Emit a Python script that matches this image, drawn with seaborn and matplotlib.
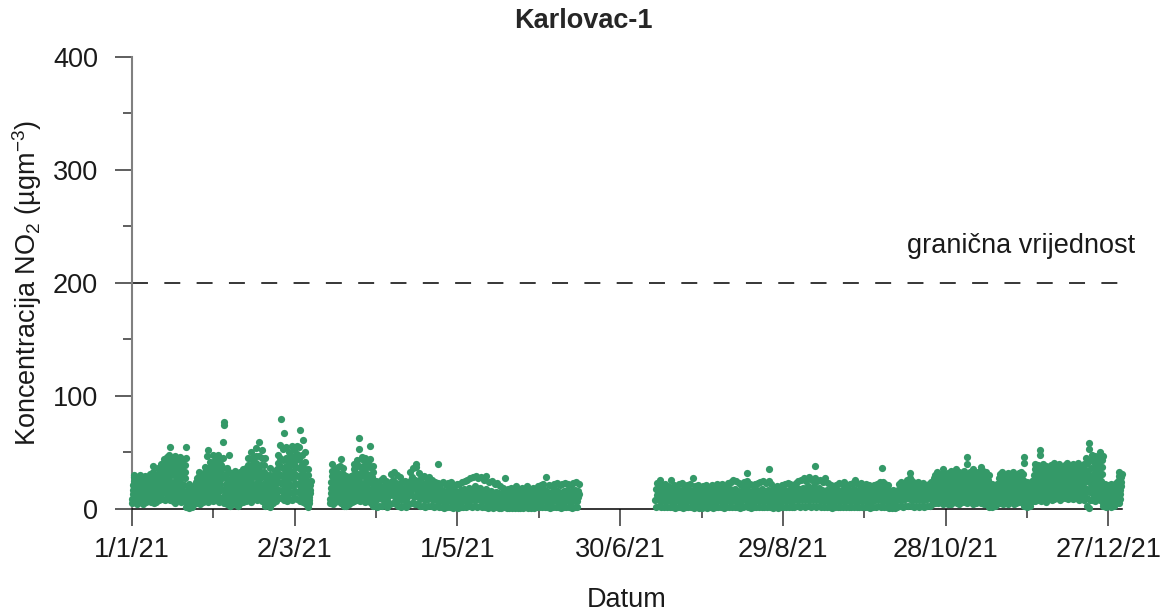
import pandas as pd
import matplotlib
matplotlib.use("Agg")
import matplotlib.pyplot as plt
import seaborn as sns

# ====================================
# DATA (NO2 readings in ug/m3)
# winter months: 8 readings a day (3h), summer months: 6 a day (4h)
# ====================================
jan = [5, 9, 13, 17, 21, 25, 28, 30,  7, 11, 15, 19, 23, 26, 28, 22,
       4, 8, 12, 16, 20, 24, 27, 30,  6, 10, 14, 18, 22, 25, 28, 20,
       4, 7, 11, 15, 19, 23, 27, 29,  6, 9, 13, 17, 21, 24, 25, 18,
       8, 12, 16, 20, 24, 27, 31, 22,  6, 10, 15, 19, 24, 28, 33, 38,
       5, 9, 12, 16, 20, 24, 28, 19,  6, 11, 16, 21, 26, 31, 36, 28,
       8, 13, 18, 23, 28, 33, 37, 40,  9, 14, 19, 25, 30, 35, 40, 44,
       8, 14, 20, 26, 32, 37, 42, 46,  10, 16, 22, 28, 34, 40, 48, 55,
       8, 13, 19, 24, 30, 35, 40, 45,  7, 12, 18, 24, 30, 36, 42, 47,
       5, 10, 16, 21, 27, 32, 38, 43,  8, 14, 19, 25, 31, 36, 41, 46,
       6, 11, 17, 22, 28, 33, 39, 44,  9, 15, 21, 27, 33, 39, 45, 55,
       2, 5, 8, 11, 14, 17, 20, 22,  1, 3, 6, 8, 11, 13, 15, 17,
       2, 4, 7, 10, 13, 16, 18, 20,  4, 7, 10, 13, 17, 20, 24, 27,
       5, 9, 13, 17, 21, 25, 29, 33,  4, 8, 11, 15, 19, 23, 27, 31,
       6, 10, 14, 19, 23, 28, 33, 37,  7, 12, 17, 23, 29, 36, 47, 52,
       6, 11, 16, 21, 27, 32, 37, 42,  8, 13, 19, 25, 31, 37, 42, 48,
       7, 12, 17, 22, 28, 34, 40, 45]
feb = [8, 13, 19, 25, 31, 37, 43, 48,  6, 11, 16, 22, 28, 33, 39, 44,
       10, 18, 27, 36, 45, 59, 74, 77,  5, 9, 13, 17, 22, 27, 31, 36,
       4, 8, 12, 17, 21, 26, 33, 48,  3, 7, 11, 15, 19, 23, 28, 32,
       5, 9, 13, 17, 21, 25, 30, 34,  4, 8, 11, 15, 19, 22, 26, 30,
       3, 7, 11, 15, 19, 23, 28, 33,  5, 9, 13, 17, 21, 26, 31, 35,
       6, 10, 14, 18, 23, 27, 32, 36,  7, 12, 17, 22, 28, 33, 39, 45,
       9, 14, 20, 26, 32, 38, 44, 50,  6, 11, 17, 22, 28, 34, 40, 46,
       10, 16, 22, 29, 35, 41, 47, 54,  8, 13, 19, 25, 31, 37, 47, 59,
       9, 15, 21, 27, 33, 39, 45, 52,  7, 12, 17, 22, 28, 33, 39, 45,
       3, 7, 10, 14, 18, 22, 26, 30,  4, 8, 12, 16, 21, 25, 30, 36,
       2, 6, 9, 13, 16, 20, 24, 28,  5, 9, 13, 17, 21, 25, 30, 34,
       7, 12, 18, 23, 29, 35, 41, 48,  11, 17, 24, 31, 38, 45, 57, 80,
       10, 16, 22, 29, 36, 43, 53, 67,  8, 14, 20, 26, 32, 38, 45, 55,
       7, 12, 18, 24, 30, 36, 42, 50,  9, 15, 21, 28, 34, 40, 47, 56]
mar_a = [8, 14, 20, 27, 33, 39, 45, 52,  10, 16, 23, 30, 37, 43, 49, 56,
         9, 15, 22, 29, 36, 44, 55, 70,  7, 13, 19, 25, 32, 40, 48, 61,
         6, 11, 17, 23, 29, 35, 42, 50,  4, 8, 12, 16, 20, 25, 30, 35,
         2, 5, 8, 11, 14, 17, 21, 25]
mar_b = [5, 9, 14, 19, 24, 29, 34, 40,  4, 8, 12, 16, 21, 25, 30, 35,
         6, 10, 14, 18, 23, 27, 32, 37,  7, 11, 16, 21, 26, 31, 38, 44,
         5, 9, 13, 17, 22, 27, 31, 36,  3, 6, 10, 13, 17, 21, 25, 29,
         3, 6, 9, 13, 16, 20, 24, 27,  4, 7, 11, 14, 18, 22, 26, 29,
         6, 10, 15, 20, 25, 30, 35, 40,  7, 12, 17, 22, 27, 32, 38, 43,
         8, 13, 19, 25, 31, 38, 53, 63,  7, 12, 17, 23, 29, 35, 44, 46,
         8, 13, 18, 23, 29, 34, 40, 45,  6, 10, 15, 20, 26, 31, 37, 42,
         7, 12, 18, 24, 30, 37, 44, 56,  5, 9, 14, 18, 23, 28, 33, 38,
         3, 6, 9, 12, 15, 18, 22, 25]
apr = [8, 2, 18, 12, 24, 15,  10, 3, 20, 14, 26, 17,  9, 3, 19, 13, 27, 16,
       11, 4, 21, 15, 25, 18,  8, 2, 17, 12, 23, 14,  12, 4, 24, 17, 31, 20,
       13, 5, 26, 18, 33, 22,  11, 4, 23, 16, 30, 19,  10, 3, 22, 15, 28, 18,
       8, 2, 17, 12, 24, 14,  9, 3, 19, 13, 25, 16,  7, 2, 16, 11, 22, 13,
       12, 4, 25, 17, 33, 21,  13, 5, 28, 19, 36, 23,  11, 4, 26, 18, 40, 37,
       12, 4, 24, 17, 32, 21,  9, 3, 20, 14, 27, 17,  10, 3, 22, 15, 29, 18,
       8, 2, 18, 12, 25, 15,  9, 3, 21, 14, 28, 17,  10, 3, 20, 15, 26, 18,
       8, 2, 17, 12, 24, 14,  9, 3, 19, 13, 40, 23,  7, 2, 16, 11, 22, 14,
       8, 2, 17, 12, 24, 15,  6, 1, 15, 10, 21, 13,  7, 2, 16, 11, 23, 14,
       8, 2, 18, 12, 24, 15,  6, 1, 14, 10, 21, 12,  7, 2, 16, 11, 22, 13]
may = [6, 1, 15, 10, 22, 13,  7, 2, 17, 11, 24, 14,  8, 2, 18, 12, 25, 15,
       7, 2, 16, 11, 26, 14,  9, 3, 19, 13, 27, 16,  8, 2, 18, 12, 28, 17,
       10, 3, 20, 14, 29, 18,  8, 2, 17, 12, 27, 15,  9, 3, 19, 13, 28, 16,
       7, 2, 16, 11, 26, 14,  8, 2, 18, 12, 29, 15,  6, 1, 15, 10, 24, 13,
       7, 2, 16, 11, 25, 14,  6, 1, 14, 10, 22, 12,  7, 2, 15, 11, 23, 13,
       6, 1, 14, 10, 20, 12,  5, 1, 13, 9, 19, 11,  7, 2, 15, 10, 27, 13,
       5, 1, 12, 8, 18, 10,  6, 1, 13, 9, 19, 11,  5, 1, 12, 8, 17, 10,
       6, 1, 14, 9, 20, 11,  5, 1, 12, 8, 18, 10,  6, 1, 13, 9, 19, 11,
       5, 1, 12, 8, 17, 10,  6, 2, 14, 9, 20, 12,  5, 1, 13, 8, 18, 10,
       6, 1, 12, 9, 19, 11,  5, 1, 13, 8, 18, 10,  6, 2, 14, 10, 20, 12,
       7, 2, 15, 10, 21, 12]
jun = [7, 2, 16, 11, 22, 13,  8, 2, 17, 12, 28, 14,  7, 2, 15, 11, 21, 13,
       6, 1, 14, 10, 20, 12,  7, 2, 16, 11, 22, 13,  8, 2, 17, 12, 23, 14,
       7, 2, 15, 11, 21, 13,  6, 1, 14, 10, 22, 12,  7, 2, 16, 11, 23, 13,
       8, 2, 17, 12, 22, 14,  7, 2, 15, 11, 21, 13,  6, 1, 16, 10, 23, 12,
       8, 2, 17, 12, 24, 14,  7, 2, 16, 11, 22, 13]
jul = [8, 2, 18, 12, 23, 14,  9, 3, 19, 13, 26, 15,  7, 2, 16, 11, 21, 13,
       8, 2, 17, 12, 22, 14,  7, 2, 15, 11, 20, 13,  8, 2, 18, 12, 26, 14,
       7, 2, 16, 11, 21, 13,  6, 1, 15, 10, 20, 12,  8, 2, 17, 12, 22, 14,
       7, 2, 16, 11, 23, 13,  6, 1, 14, 10, 19, 12,  7, 2, 16, 11, 21, 13,
       8, 2, 17, 12, 22, 14,  7, 2, 16, 11, 27, 13,  6, 1, 15, 10, 20, 12,
       7, 2, 16, 11, 21, 13,  5, 1, 13, 9, 18, 11,  6, 1, 15, 10, 20, 12,
       7, 2, 16, 11, 21, 13]
aug = [6, 1, 14, 10, 19, 12,  7, 2, 16, 11, 21, 13,  6, 1, 15, 10, 20, 12,
       7, 2, 16, 11, 22, 13,  8, 2, 17, 12, 21, 14,  7, 2, 16, 11, 22, 13,
       6, 1, 15, 10, 20, 12,  7, 2, 16, 11, 23, 13,  8, 2, 18, 12, 24, 14,
       7, 2, 17, 11, 26, 13,  8, 2, 18, 12, 25, 14,  7, 2, 16, 11, 23, 13,
       6, 1, 15, 10, 21, 12,  8, 2, 17, 12, 24, 14,  9, 3, 19, 13, 32, 25,
       7, 2, 16, 11, 22, 13,  6, 1, 15, 10, 21, 12,  7, 2, 16, 11, 22, 13,
       8, 2, 17, 12, 23, 14,  7, 2, 16, 11, 24, 13,  8, 2, 18, 12, 25, 14,
       7, 2, 16, 11, 23, 13,  8, 2, 17, 12, 35, 25,  7, 2, 16, 11, 22, 13,
       6, 1, 14, 10, 19, 12,  7, 2, 15, 11, 20, 13,  6, 1, 14, 10, 18, 12,
       7, 2, 16, 11, 21, 13,  8, 2, 17, 12, 22, 14,  7, 2, 16, 11, 23, 13,
       8, 2, 17, 12, 22, 14]
sep = [7, 2, 16, 11, 21, 13,  8, 2, 17, 12, 23, 14,  9, 3, 19, 13, 25, 15,
       8, 2, 18, 12, 26, 14,  9, 3, 19, 13, 27, 16,  8, 2, 18, 12, 25, 14,
       9, 3, 20, 14, 28, 16,  8, 2, 18, 12, 26, 15,  9, 3, 20, 14, 38, 27,
       8, 2, 18, 12, 25, 14,  9, 3, 19, 13, 26, 15,  8, 2, 17, 12, 24, 14,
       7, 2, 16, 11, 27, 13,  8, 2, 17, 12, 23, 14,  7, 2, 16, 11, 21, 13,
       6, 1, 14, 10, 19, 12,  7, 2, 16, 11, 21, 13,  8, 2, 17, 12, 23, 14,
       7, 2, 16, 11, 22, 13,  8, 2, 18, 12, 24, 14,  7, 2, 16, 11, 21, 13,
       8, 2, 17, 12, 22, 14,  7, 2, 16, 11, 23, 13,  8, 2, 18, 12, 26, 14,
       7, 2, 16, 11, 22, 13,  8, 2, 17, 12, 23, 14,  7, 2, 15, 11, 21, 13,
       8, 2, 17, 12, 22, 14,  7, 2, 16, 11, 21, 13,  6, 1, 14, 10, 18, 12]
oct_a = [7, 2, 16, 11, 21, 13,  8, 2, 17, 12, 22, 14,  9, 3, 19, 13, 24, 15,
         8, 2, 18, 12, 36, 24,  7, 2, 16, 11, 22, 13,  8, 2, 17, 12, 21, 14,
         5, 1, 12, 8, 16, 10,  6, 1, 13, 9, 17, 11,  5, 1, 12, 8, 16, 10,
         8, 2, 17, 12, 22, 14,  9, 3, 19, 13, 24, 15,  8, 2, 18, 12, 23, 14,
         9, 3, 19, 13, 26, 16,  10, 3, 21, 14, 32, 27,  9, 3, 19, 13, 25, 16,
         8, 2, 18, 12, 23, 14,  9, 3, 19, 13, 24, 15,  8, 2, 17, 12, 22, 14,
         9, 3, 18, 13, 23, 15,  8, 2, 17, 12, 21, 14,  9, 3, 19, 13, 22, 15,
         10, 3, 20, 14, 24, 16]
oct_b = [4, 8, 12, 15, 19, 23, 27, 30,  5, 9, 13, 17, 21, 25, 29, 33,
         5, 8, 12, 16, 20, 24, 28, 31,  6, 10, 14, 18, 22, 27, 31, 35,
         4, 8, 12, 16, 19, 23, 27, 30,  5, 9, 13, 17, 21, 25, 29, 32,
         4, 8, 12, 16, 21, 25, 30, 34,  4, 7, 11, 15, 18, 22, 26, 29,
         6, 10, 14, 18, 23, 27, 31, 35]
nov = [5, 9, 13, 17, 21, 25, 29, 33,  4, 8, 12, 16, 20, 24, 28, 31,
       6, 10, 14, 18, 22, 26, 30, 34,  6, 11, 16, 21, 26, 31, 40, 46,
       5, 9, 13, 17, 21, 25, 29, 33,  6, 10, 14, 19, 23, 27, 31, 35,
       4, 8, 12, 16, 20, 24, 28, 32,  5, 9, 13, 17, 21, 25, 29, 33,
       6, 10, 15, 19, 24, 28, 33, 37,  5, 9, 13, 17, 21, 26, 30, 34,
       4, 8, 12, 16, 21, 25, 29, 33,  4, 8, 11, 15, 19, 22, 26, 30,
       2, 5, 8, 11, 14, 17, 20, 22,  2, 4, 7, 10, 13, 16, 19, 21,
       3, 5, 8, 11, 14, 17, 20, 22,  4, 8, 12, 16, 19, 23, 27, 31,
       5, 9, 13, 17, 21, 25, 29, 33,  4, 8, 11, 15, 19, 22, 26, 30,
       5, 9, 13, 16, 20, 24, 28, 32,  4, 8, 12, 16, 19, 23, 27, 31,
       6, 10, 14, 17, 21, 25, 29, 33,  4, 7, 11, 15, 19, 22, 26, 30,
       5, 9, 13, 16, 20, 24, 28, 32,  6, 10, 14, 18, 21, 25, 29, 33,
       6, 11, 16, 21, 26, 31, 41, 46,  3, 6, 9, 12, 15, 18, 21, 24,
       2, 5, 8, 11, 14, 17, 20, 22,  3, 6, 9, 12, 16, 19, 22, 25,
       7, 11, 16, 21, 26, 30, 35, 40,  7, 12, 16, 21, 25, 30, 34, 39]
dec = [8, 13, 18, 24, 29, 35, 48, 52,  7, 11, 16, 21, 26, 31, 36, 40,
       8, 12, 17, 21, 26, 30, 34, 38,  6, 10, 15, 19, 24, 28, 33, 37,
       9, 13, 17, 22, 26, 31, 35, 39,  8, 12, 17, 21, 26, 31, 36, 41,
       9, 13, 17, 21, 25, 29, 33, 37,  10, 14, 18, 23, 27, 32, 36, 40,
       8, 12, 16, 20, 24, 28, 32, 36,  10, 14, 18, 22, 27, 31, 35, 39,
       10, 14, 19, 23, 28, 32, 37, 41,  9, 13, 17, 21, 26, 30, 34, 38,
       10, 14, 18, 23, 27, 32, 36, 40,  9, 13, 17, 21, 25, 29, 33, 37,
       10, 14, 19, 23, 28, 32, 37, 41,  8, 12, 17, 21, 25, 29, 34, 38,
       9, 13, 18, 22, 27, 31, 36, 40,  8, 13, 18, 24, 29, 34, 40, 45,
       3, 10, 18, 26, 34, 42, 53, 58,  1, 8, 15, 22, 29, 36, 44, 48,
       8, 13, 19, 25, 31, 36, 42, 47,  7, 12, 18, 23, 29, 34, 40, 45,
       9, 15, 21, 27, 33, 39, 45, 50,  8, 13, 19, 25, 31, 37, 43, 47,
       3, 5, 8, 11, 14, 17, 20, 22,  2, 4, 7, 10, 13, 16, 19, 21,
       3, 5, 8, 11, 14, 17, 20, 22,  2, 5, 8, 11, 13, 16, 19, 21,
       3, 6, 9, 12, 15, 18, 21, 23,  5, 9, 13, 17, 21, 25, 29, 33,
       5, 9, 13, 17, 20, 24, 28, 31]

segment_starts = ["2021-01-01", "2021-02-01", "2021-03-01", "2021-03-15",
                  "2021-04-01", "2021-05-01", "2021-06-01", "2021-07-13",
                  "2021-08-01", "2021-09-01", "2021-10-01", "2021-10-23",
                  "2021-11-01", "2021-12-01"]
segment_freqs = ["3h", "3h", "3h", "3h", "4h", "4h", "4h", "4h",
                 "4h", "4h", "4h", "3h", "3h", "3h"]
segment_values = [jan, feb, mar_a, mar_b, apr, may, jun, jul,
                  aug, sep, oct_a, oct_b, nov, dec]

limit_value = 200
major_dates = ["2021-01-01", "2021-03-02", "2021-05-01", "2021-06-30",
               "2021-08-29", "2021-10-28", "2021-12-27"]
major_labels = ["1/1/21", "2/3/21", "1/5/21", "30/6/21", "29/8/21", "28/10/21", "27/12/21"]

# ====================================
# BUILD TABLE
# ====================================
frames = []
for start, freq, vals in zip(segment_starts, segment_freqs, segment_values):
    t = pd.date_range(start, periods=len(vals), freq=freq)
    frames.append(pd.DataFrame({"Datum": t, "NO2": vals}))
df = pd.concat(frames, ignore_index=True)

# ====================================
# PLOT
# ====================================
sns.set_style("ticks")
plt.rcParams["font.family"] = ["Liberation Sans", "DejaVu Sans"]
plt.rcParams["mathtext.fontset"] = "custom"
plt.rcParams["mathtext.rm"] = "Liberation Sans"
plt.rcParams["mathtext.it"] = "Liberation Sans:italic"
plt.rcParams["mathtext.bf"] = "Liberation Sans:bold"

fs = 19.5
fig = plt.figure(figsize=(11.66, 6.12), dpi=100)
ax = fig.add_axes([0.1132, 0.1683, 0.8491, 0.7386])

sns.scatterplot(data=df, x="Datum", y="NO2", color="#349968", s=27,
                linewidth=0, ax=ax, clip_on=False, zorder=3)

# limit value line
ax.axhline(limit_value, color="black", lw=1.1, linestyle=(0, (10.45, 10.7)), zorder=2)
ax.text(pd.Timestamp("2021-01-01") + pd.Timedelta(days=369.7), 233, "granična vrijednost",
        ha="right", va="center", fontsize=fs, color="#1a1a1a")

ax.set_xlim(pd.Timestamp("2021-01-01"), pd.Timestamp("2022-01-01"))
ax.set_ylim(0, 400)

major = pd.to_datetime(major_dates)
ax.set_xticks(major)
ax.set_xticklabels(major_labels)
ax.set_xticks(major[:-1] + pd.Timedelta(days=30), minor=True)
ax.set_yticks([0, 100, 200, 300, 400])
ax.set_yticks([50, 150, 250, 350], minor=True)

ax.tick_params(axis="both", which="both", bottom=True, left=True, direction="out")
ax.tick_params(axis="both", which="major", length=12.5, width=1.1, color="#333333",
               labelsize=fs, labelcolor="#1a1a1a")
ax.tick_params(axis="both", which="minor", length=6.5, width=1.1, color="#333333")
ax.tick_params(axis="x", which="major", pad=8)
ax.tick_params(axis="y", which="major", pad=12)

for side in ["top", "right"]:
    ax.spines[side].set_visible(False)
ax.spines["left"].set_color("#808080")
ax.spines["left"].set_linewidth(1.5)
ax.spines["bottom"].set_color("black")
ax.spines["bottom"].set_linewidth(1.1)

ax.set_xlabel("Datum", fontsize=fs, color="#1a1a1a", labelpad=17)
ax.set_ylabel("Koncentracija NO$_2$ (µgm$^{-3}$)", fontsize=fs, color="#1a1a1a", labelpad=6)
fig.suptitle("Karlovac-1", fontsize=fs, fontweight="bold", x=0.5, y=0.966, va="center")

plt.savefig("out.png", dpi=100)
